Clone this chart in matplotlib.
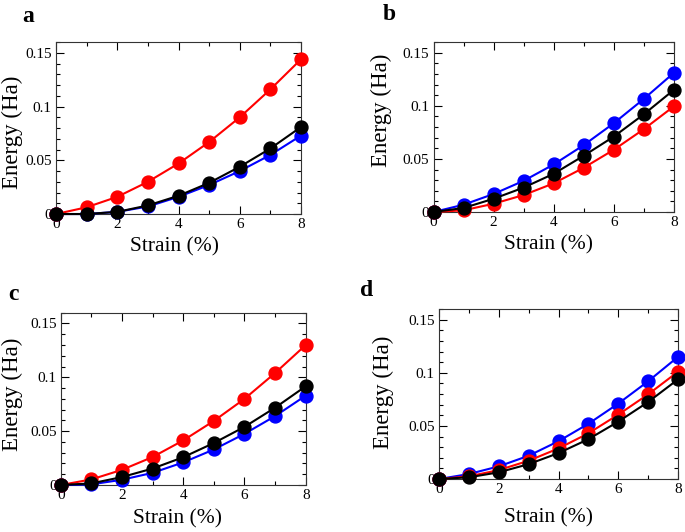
"""Strain-energy curves, four panels."""
import matplotlib
matplotlib.use("Agg")
import matplotlib.pyplot as plt
from matplotlib.ticker import MultipleLocator

plt.rcParams["font.family"] = ["Liberation Serif", "DejaVu Serif"]

strain = [0, 1, 2, 3, 4, 5, 6, 7, 8]

# panel a
a_red = [0, 0.0063, 0.016, 0.030, 0.047, 0.067, 0.090, 0.116, 0.144]
a_black = [0, 0.0, 0.002, 0.008, 0.017, 0.029, 0.044, 0.061, 0.081]
a_blue = [0, 0.0, 0.002, 0.007, 0.016, 0.027, 0.040, 0.055, 0.073]
# panel b
b_red = [0, 0.0016, 0.0078, 0.016, 0.027, 0.0417, 0.0586, 0.078, 0.0995]
b_black = [0, 0.0038, 0.0125, 0.023, 0.036, 0.053, 0.071, 0.092, 0.115]
b_blue = [0, 0.0069, 0.017, 0.0294, 0.0448, 0.063, 0.0836, 0.1065, 0.131]
# panel c
c_red = [0, 0.0052, 0.0141, 0.026, 0.0414, 0.0595, 0.080, 0.104, 0.130]
c_black = [0, 0.0015, 0.0074, 0.0153, 0.0258, 0.039, 0.054, 0.0718, 0.0917]
c_blue = [0, 0.0006, 0.0049, 0.0113, 0.021, 0.033, 0.0475, 0.064, 0.083]
# panel d
d_red = [0, 0.0025, 0.0084, 0.0172, 0.0288, 0.043, 0.0606, 0.0797, 0.101]
d_black = [0, 0.0016, 0.0063, 0.014, 0.0244, 0.0375, 0.054, 0.0725, 0.0938]
d_blue = [0, 0.0047, 0.0119, 0.0219, 0.0356, 0.052, 0.071, 0.092, 0.115]

# letter, axes rect, letter pos (px), ylabel coords, xlabel coords, data
panels = [
    ("a", [0.0818, 0.5977, 0.3577, 0.3233], (28, 17), (-0.180, 0.477), (0.482, -0.192),
     a_red, a_black, a_blue),
    ("b", [0.6330, 0.6015, 0.3508, 0.3195], (389, 15), (-0.219, 0.600), (0.478, -0.194),
     b_red, b_black, b_blue),
    ("c", [0.0886, 0.0883, 0.3577, 0.3239], (13, 294), (-0.199, 0.525), (0.477, -0.197),
     c_red, c_black, c_blue),
    ("d", [0.6409, 0.0996, 0.3489, 0.3195], (367, 291), (-0.232, 0.509), (0.458, -0.229),
     d_red, d_black, d_blue),
]

W, H = 685, 532
fig = plt.figure(figsize=(W / 100, H / 100), dpi=100)

for letter, rect, (lx, ly), ylc, xlc, red, black, blue in panels:
    ax = fig.add_axes(rect)
    for ys, col in ((blue, "#0000ff"), (red, "#ff0000"), (black, "black")):
        ax.plot(strain, ys, "-o", color=col, lw=1.5, ms=9.3, clip_on=False, zorder=3)
    ax.set_xlim(0, 8)
    ax.set_ylim(0, 0.16)
    ax.xaxis.set_major_locator(MultipleLocator(2))
    ax.xaxis.set_minor_locator(MultipleLocator(1))
    ax.yaxis.set_minor_locator(MultipleLocator(0.01))
    ax.set_yticks([0, 0.05, 0.1, 0.15])
    ax.set_yticklabels(["0", "0.05", "0.1", "0.15"])
    ax.tick_params(which="both", direction="in", top=True, right=True,
                   labelsize=11, pad=3)
    ax.tick_params(which="major", length=6, width=0.8)
    ax.tick_params(which="minor", length=3, width=0.8)
    for s in ax.spines.values():
        s.set_linewidth(0.8)
        s.set_color("#333333")
    ax.set_xlabel("Strain (%)", fontsize=15.5, va="center")
    ax.set_ylabel("Energy (Ha)", fontsize=16.5, va="center")
    ax.xaxis.set_label_coords(*xlc)
    ax.yaxis.set_label_coords(*ylc)
    fig.text(lx / W, 1 - ly / H, letter, fontsize=17, fontweight="bold",
             ha="center", va="center")

fig.savefig("out.png", dpi=100)
